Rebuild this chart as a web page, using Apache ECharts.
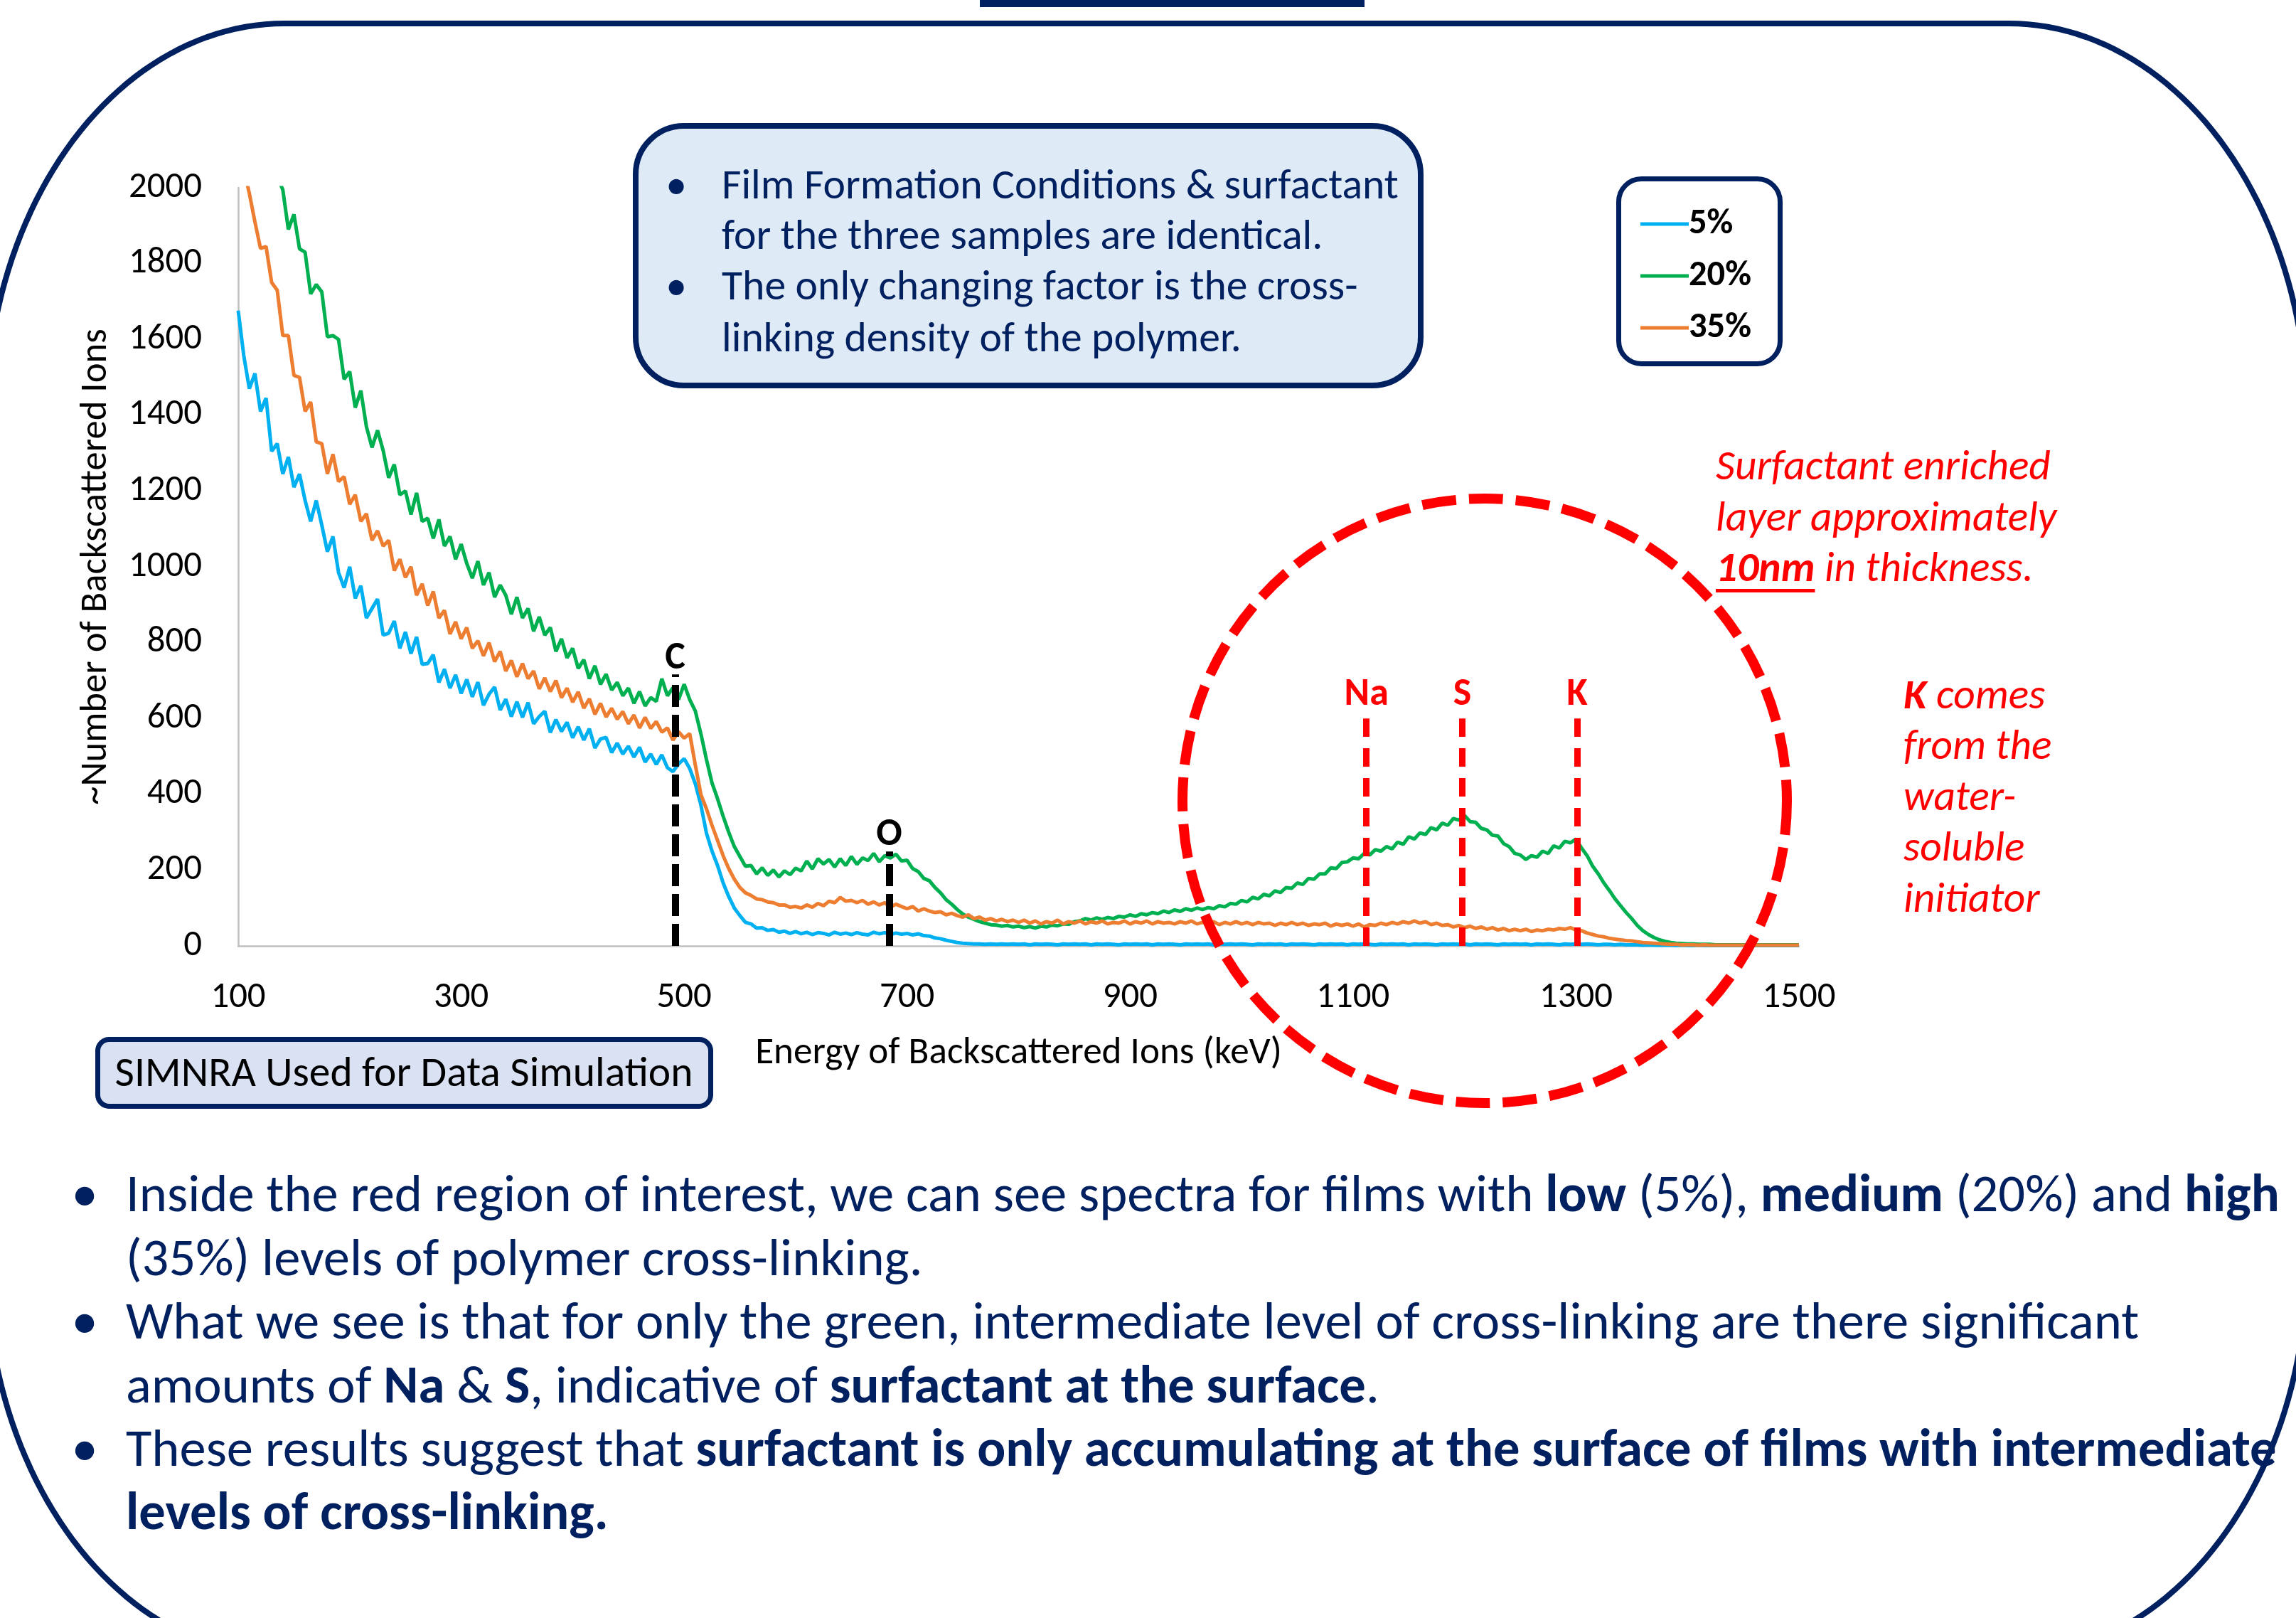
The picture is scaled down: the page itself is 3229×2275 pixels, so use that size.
<!DOCTYPE html>
<html>
<head>
<meta charset="utf-8">
<script src="https://cdn.jsdelivr.net/npm/echarts@6/dist/echarts.min.js"></script>
<style>
  html, body { margin: 0; padding: 0; background: #ffffff; }
  #chart { width: 3229px; height: 2275px; }
</style>
</head>
<body>
<div id="chart"></div>
<script>
// ---------------- Spectrum data (counts per 5 keV channel, 100 .. 1500 keV) ----------------
const ENERGY_START = 100;   // keV, first channel
const ENERGY_STEP = 5;      // keV per channel

const seriesNames = ['5%', '20%', '35%'];

const counts5 = [
  1676, 1557, 1470, 1510, 1410, 1445, 1305, 1325, 1245, 1290,
  1210, 1245, 1175, 1120, 1175, 1110, 1040, 1080, 985, 945,
  1000, 917, 950, 865, 890, 915, 820, 825, 857, 785,
  828, 771, 815, 743, 745, 768, 695, 730, 680, 715,
  666, 703, 657, 696, 635, 664, 683, 622, 651, 605,
  644, 603, 642, 586, 605, 619, 563, 597, 566, 590,
  549, 578, 543, 573, 522, 546, 550, 510, 535, 506,
  527, 498, 524, 485, 506, 479, 504, 470, 460, 480,
  494, 468, 428, 372, 298, 250, 212, 166, 130, 100,
  80, 62, 58, 47, 48, 41, 43, 36, 39, 33,
  38, 32, 36, 30, 35, 33, 29, 36, 31, 34,
  30, 35, 31, 29, 36, 32, 35, 30, 34, 31,
  33, 29, 32, 27, 26, 21, 19, 15, 12, 9,
  7, 6, 5, 5, 4, 5, 4, 5, 4, 5,
  4, 5, 3, 5, 4, 5, 4, 3, 5, 4,
  5, 4, 5, 3, 5, 4, 5, 4, 3, 5,
  4, 5, 4, 5, 3, 5, 4, 5, 4, 3,
  5, 4, 5, 4, 5, 3, 5, 4, 5, 4,
  5, 4, 3, 5, 4, 5, 4, 5, 3, 5,
  4, 5, 4, 3, 5, 4, 5, 4, 5, 3,
  5, 4, 5, 4, 3, 5, 4, 5, 4, 5,
  3, 5, 4, 5, 4, 3, 5, 4, 5, 4,
  5, 3, 5, 4, 5, 4, 3, 5, 4, 5,
  4, 5, 3, 5, 4, 5, 4, 3, 5, 4,
  5, 4, 5, 4, 3, 4, 4, 3, 4, 3,
  3, 3, 2, 3, 2, 2, 2, 2, 1, 2,
  1, 1, 2, 1, 1, 1, 1, 1, 1, 1,
  1, 1, 1, 1, 1, 1, 1, 1, 1, 1,
  1
];

const counts20 = [
  2700, 2600, 2500, 2400, 2300, 2200, 2120, 2030, 1995, 1890,
  1930, 1839, 1830, 1720, 1745, 1725, 1607, 1610, 1600, 1495,
  1515, 1420, 1465, 1370, 1315, 1360, 1307, 1235, 1270, 1190,
  1200, 1138, 1195, 1120, 1128, 1075, 1125, 1055, 1080, 1020,
  1060, 1009, 970, 1015, 952, 985, 920, 952, 925, 875,
  920, 865, 890, 830, 868, 820, 840, 777, 810, 760,
  785, 732, 755, 705, 739, 690, 717, 675, 695, 660,
  680, 640, 671, 633, 655, 645, 705, 660, 681, 650,
  690, 650, 620, 560, 492, 430, 388, 342, 300, 262,
  236, 210, 212, 190, 206, 186, 200, 182, 198, 188,
  205, 198, 224, 203, 230, 216, 228, 208, 230, 212,
  236, 215, 232, 225, 244, 222, 238, 232, 242, 224,
  226, 204, 196, 178, 172, 154, 140, 122, 110, 96,
  84, 76, 70, 64, 60, 56, 55, 52, 54, 50,
  52, 48, 51, 47, 52, 50, 55, 53, 58, 57,
  64, 66, 72, 68, 74, 70, 75, 72, 78, 76,
  82, 78, 85, 82, 88, 85, 92, 88, 95, 91,
  98, 94, 100, 96, 101, 98, 106, 103, 112, 110,
  120, 116, 128, 124, 136, 132, 145, 141, 154, 152,
  166, 162, 178, 176, 190, 190, 206, 204, 220, 222,
  232, 230, 244, 240, 254, 250, 262, 256, 274, 268,
  288, 282, 298, 294, 312, 306, 324, 318, 336, 332,
  344, 328, 326, 310, 306, 292, 290, 270, 262, 244,
  240, 228, 238, 234, 250, 244, 264, 258, 276, 272,
  282, 258, 238, 210, 190, 166, 146, 124, 106, 88,
  72, 54, 40, 30, 22, 16, 12, 9, 7, 6,
  5, 5, 4, 4, 4, 3, 3, 3, 3, 3,
  3, 3, 3, 3, 3, 3, 3, 3, 3, 3,
  3
];

const counts35 = [
  2120, 2050, 1985, 1910, 1840, 1845, 1750, 1730, 1610, 1610,
  1505, 1500, 1410, 1435, 1330, 1325, 1245, 1297, 1225, 1238,
  1165, 1190, 1120, 1140, 1070, 1095, 1055, 1070, 990, 1020,
  972, 1000, 925, 955, 898, 935, 865, 885, 823, 855,
  810, 840, 785, 805, 765, 800, 750, 777, 725, 753,
  710, 745, 705, 725, 678, 707, 671, 700, 655, 680,
  643, 670, 627, 652, 611, 640, 604, 627, 598, 618,
  586, 609, 575, 603, 574, 592, 564, 575, 543, 565,
  548, 560, 478, 400, 362, 318, 278, 238, 204, 176,
  154, 140, 133, 124, 122, 116, 114, 108, 108, 102,
  104, 100, 108, 102, 112, 106, 118, 114, 128, 118,
  120, 114, 120, 110, 116, 108, 114, 102, 110, 104,
  98, 104, 92, 98, 92, 88, 90, 82, 86, 80,
  76, 82, 72, 76, 68, 72, 66, 70, 64, 68,
  62, 68, 60, 66, 58, 64, 60, 68, 58, 64,
  60, 66, 58, 64, 60, 66, 58, 62, 60, 66,
  58, 64, 60, 66, 58, 64, 60, 62, 58, 64,
  60, 66, 58, 62, 60, 64, 56, 62, 58, 64,
  58, 62, 56, 62, 58, 60, 54, 60, 56, 62,
  56, 60, 54, 58, 56, 60, 52, 58, 54, 58,
  52, 58, 50, 56, 54, 60, 56, 62, 58, 64,
  60, 66, 60, 64, 56, 60, 54, 56, 50, 54,
  48, 52, 46, 50, 44, 48, 42, 46, 40, 44,
  40, 44, 38, 42, 40, 44, 42, 46, 44, 48,
  42, 40, 34, 30, 26, 24, 20, 18, 16, 14,
  13, 11, 9, 8, 7, 6, 5, 4, 4, 3,
  3, 3, 2, 3, 2, 2, 2, 2, 2, 2,
  2, 2, 2, 2, 2, 2, 2, 2, 2, 2,
  2
];

// Axis ranges / tick steps
const xRange = { min: 100, max: 1500, interval: 200 };
const yRange = { min: 0, max: 2000, interval: 200 };

// Element edge markers
const markerNames = ['C', 'O', 'Na', 'S', 'K'];
const markerEnergy = [492, 684, 1112, 1198, 1301];
const markerHeight = [716, 249, 600, 600, 600];

// ---------------- Texts ----------------
const xAxisTitle = 'Energy of Backscattered Ions (keV)';
const yAxisTitle = '~Number of Backscattered Ions';
const simnraText = 'SIMNRA Used for Data Simulation';
const infoLines = [
  'Film Formation Conditions & surfactant',
  'for the three samples are identical.',
  'The only changing factor is the cross-',
  'linking density of the polymer.'
];
const infoBullets = [true, false, true, false];
// [text, bold]
const noteLines = [
  [['Inside the red region of interest, we can see spectra for films with ', 0], ['low', 1], [' (5%), ', 0], ['medium', 1], [' (20%) and ', 0], ['high', 1]],
  [['(35%) levels of polymer cross-linking.', 0]],
  [['What we see is that for only the green, intermediate level of cross-linking are there significant', 0]],
  [['amounts of ', 0], ['Na', 1], [' & ', 0], ['S', 1], [', indicative of ', 0], ['surfactant at the surface', 1], ['.', 0]],
  [['These results suggest that ', 0], ['surfactant is only accumulating at the surface of films with intermediate', 1]],
  [['levels of cross-linking.', 1]]
];
const noteBullets = [true, false, true, false, true, false];
// [text, bold]  (all italic)
const layerLines = [
  [['Surfactant enriched', 0]],
  [['layer approximately', 0]],
  [['10nm', 1], [' in thickness.', 0]]
];
const potassiumLines = [
  [['K', 1], [' comes', 0]],
  [['from the', 0]],
  [['water-', 0]],
  [['soluble', 0]],
  [['initiator', 0]]
];

// ---------------- Styling helpers ----------------
const FAMILY = 'Carlito, Lato, sans-serif';
const NAVY = '#002060';
const RED = '#FF0000';

const measureCtx = document.createElement('canvas').getContext('2d');
function textWidth(parts, italic) {
  let w = 0;
  parts.forEach(([t, b]) => {
    measureCtx.font = (italic ? 'italic ' : '') + (b ? 'bold ' : '') + '100px ' + FAMILY;
    w += measureCtx.measureText(t).width;
  });
  return w;
}
function fitSize(parts, width, italic) {
  return 100 * width / textWidth(parts, italic);
}

const tickSize = fitSize([['2000', 0]], 103);
const xTitleSize = fitSize([[xAxisTitle, 0]], 741);
const yTitleSize = fitSize([[yAxisTitle, 0]], 670);
const legendSize = fitSize([['20%', 1]], 88);
const simnraSize = fitSize([[simnraText, 0]], 813);
const infoSize = fitSize([[infoLines[0], 0]], 952);
const noteSize = fitSize(noteLines[0], 3029);
const redSize = fitSize(layerLines[0], 471, true);
const markerSize = 54;

function richText(parts) {
  return parts.map(([t, b]) => '{' + (b ? 'b' : 'n') + '|' + t + '}').join('');
}
function richStyles(size, color, italic) {
  const base = { fontSize: size, fontFamily: FAMILY, fill: color, fontStyle: italic ? 'italic' : 'normal' };
  return {
    n: Object.assign({}, base, { fontWeight: 'normal' }),
    b: Object.assign({}, base, { fontWeight: 'bold' })
  };
}

function toPairs(values) {
  return values.map((v, i) => [ENERGY_START + i * ENERGY_STEP, v]);
}

// ---------------- Decorative elements ----------------
const elements = [];

// small bar at the top edge
elements.push({ type: 'rect', z: 0, shape: { x: 1378, y: -6, width: 541, height: 16 }, style: { fill: NAVY } });

// large frame with elliptical corners around the slide content
(function () {
  const L = -20, R = 3245, T = 33, B = 2330, rx = 420, ry = 560;
  const pts = [];
  const corner = (cx, cy, a0, a1) => {
    const n = 48;
    for (let j = 0; j <= n; j++) {
      const a = a0 + (a1 - a0) * j / n;
      pts.push([cx + rx * Math.cos(a), cy + ry * Math.sin(a)]);
    }
  };
  corner(R - rx, T + ry, -Math.PI / 2, 0);          // top-right
  corner(R - rx, B - ry, 0, Math.PI / 2);           // bottom-right
  corner(L + rx, B - ry, Math.PI / 2, Math.PI);     // bottom-left
  corner(L + rx, T + ry, Math.PI, Math.PI * 1.5);   // top-left
  elements.push({ type: 'polygon', z: 0, shape: { points: pts }, style: { fill: 'none', stroke: NAVY, lineWidth: 8 } });
})();

// info box
elements.push({ type: 'rect', z: 1, shape: { x: 894, y: 177, width: 1104, height: 365, r: 68 },
  style: { fill: '#DEEAF6', stroke: NAVY, lineWidth: 8 } });
const infoY = [264, 335, 406, 479];
infoLines.forEach((t, i) => {
  if (infoBullets[i]) {
    elements.push({ type: 'text', z: 3, x: 951, y: infoY[i],
      style: { text: '\u2022', fontSize: infoSize, fontFamily: FAMILY, fill: NAVY, align: 'center', verticalAlign: 'middle' } });
  }
  elements.push({ type: 'text', z: 3, x: 1015, y: infoY[i],
    style: { text: t, fontSize: infoSize, fontFamily: FAMILY, fill: NAVY, align: 'left', verticalAlign: 'middle' } });
});

// legend frame
elements.push({ type: 'rect', z: 1, shape: { x: 2276.5, y: 251.5, width: 227, height: 260, r: 32 },
  style: { fill: '#ffffff', stroke: NAVY, lineWidth: 7 } });

// SIMNRA box
elements.push({ type: 'rect', z: 1, shape: { x: 137.5, y: 1461.5, width: 862, height: 94, r: 16 },
  style: { fill: '#D9E1F2', stroke: NAVY, lineWidth: 7 } });
elements.push({ type: 'text', z: 3, x: 568, y: 1512,
  style: { text: simnraText, fontSize: simnraSize, fontFamily: FAMILY, fill: '#000000', align: 'center', verticalAlign: 'middle' } });

// region of interest
elements.push({ type: 'circle', z: 20, shape: { cx: 2088, cy: 1126, r: 425 },
  style: { fill: 'none', stroke: RED, lineWidth: 14, lineDash: [48, 18] } });

// red annotations
const layerY = [659, 731, 802];
layerLines.forEach((parts, i) => {
  elements.push({ type: 'text', z: 21, x: 2413, y: layerY[i],
    style: { text: richText(parts), rich: richStyles(redSize, RED, true), align: 'left', verticalAlign: 'middle' } });
});
(function () {
  const w = textWidth([layerLines[2][0]], true) * redSize / 100;
  elements.push({ type: 'rect', z: 21, shape: { x: 2413, y: 828, width: w, height: 5 }, style: { fill: RED } });
})();
const kY = [981, 1052, 1124, 1195, 1267];
potassiumLines.forEach((parts, i) => {
  elements.push({ type: 'text', z: 21, x: 2677, y: kY[i],
    style: { text: richText(parts), rich: richStyles(redSize, RED, true), align: 'left', verticalAlign: 'middle' } });
});

// summary bullets
const noteY = [1684, 1774, 1863, 1953, 2042, 2131];
noteLines.forEach((parts, i) => {
  if (noteBullets[i]) {
    elements.push({ type: 'text', z: 3, x: 119, y: noteY[i],
      style: { text: '\u2022', fontSize: noteSize, fontFamily: FAMILY, fill: NAVY, align: 'center', verticalAlign: 'middle' } });
  }
  elements.push({ type: 'text', z: 3, x: 177, y: noteY[i],
    style: { text: richText(parts), rich: richStyles(noteSize, NAVY, false), align: 'left', verticalAlign: 'middle' } });
});

// ---------------- Chart ----------------
const lineColors = ['#00B0F0', '#00B050', '#ED7D31'];
const seriesValues = [counts5, counts20, counts35];

const markerLines = markerNames.map((n, i) => {
  const isRed = i >= 2;
  const color = isRed ? RED : '#000000';
  return [
    {
      coord: [markerEnergy[i], 0], name: n,
      lineStyle: { color: color, width: isRed ? 9 : 10, type: isRed ? [26, 16] : [31, 11], opacity: 1 },
      label: { show: true, position: 'end', formatter: '{b}', color: color, fontFamily: FAMILY,
        fontWeight: 'bold', fontSize: markerSize, distance: isRed ? 6 : (n === 'O' ? -4 : -5) }
    },
    { coord: [markerEnergy[i], markerHeight[i]] }
  ];
});

const series = seriesNames.map((name, k) => {
  const s = {
    name: name,
    type: 'line',
    data: toPairs(seriesValues[k]),
    symbol: 'none',
    showSymbol: false,
    color: lineColors[k],
    lineStyle: { color: lineColors[k], width: 5 },
    clip: true,
    animation: false,
    z: 2 + k
  };
  if (k === seriesNames.length - 1) {
    s.markLine = {
      silent: true,
      symbol: ['none', 'none'],
      animation: false,
      data: markerLines
    };
  }
  return s;
});

const plainNumber = v => String(v);

const chart = echarts.init(document.getElementById('chart'), null, { renderer: 'canvas', width: 3229, height: 2275 });
chart.setOption({
  backgroundColor: '#ffffff',
  animation: false,
  textStyle: { fontFamily: FAMILY },
  grid: { left: 335, top: 264, width: 2195, height: 1066, containLabel: false },
  xAxis: {
    type: 'value',
    min: xRange.min, max: xRange.max, interval: xRange.interval,
    name: xAxisTitle, nameLocation: 'middle', nameGap: 152,
    nameTextStyle: { fontSize: xTitleSize, color: '#000000', fontFamily: FAMILY, verticalAlign: 'middle' },
    axisLine: { show: true, onZero: false, lineStyle: { color: '#BFBFBF', width: 2.5 } },
    axisTick: { show: false },
    splitLine: { show: false },
    axisLabel: { fontSize: tickSize, color: '#000000', fontFamily: FAMILY, margin: 48, formatter: plainNumber }
  },
  yAxis: {
    type: 'value',
    min: yRange.min, max: yRange.max, interval: yRange.interval,
    name: yAxisTitle, nameLocation: 'middle', nameGap: 199, nameRotate: 90,
    nameTextStyle: { fontSize: yTitleSize, color: '#000000', fontFamily: FAMILY, verticalAlign: 'middle' },
    axisLine: { show: true, lineStyle: { color: '#BFBFBF', width: 2.5 } },
    axisTick: { show: false },
    splitLine: { show: false },
    axisLabel: { fontSize: tickSize, color: '#000000', fontFamily: FAMILY, margin: 51, padding: [8, 0, 0, 0], formatter: plainNumber }
  },
  legend: {
    data: seriesNames,
    orient: 'vertical',
    left: 2302, top: 285,
    itemWidth: 68, itemHeight: 5, itemGap: 23,
    icon: 'rect',
    selectedMode: false,
    z: 5,
    textStyle: { fontFamily: FAMILY, fontWeight: 'bold', fontSize: legendSize, color: '#000000', lineHeight: 50, padding: [0, 0, 0, -5] }
  },
  graphic: { elements: elements },
  series: series
});
</script>
</body>
</html>
